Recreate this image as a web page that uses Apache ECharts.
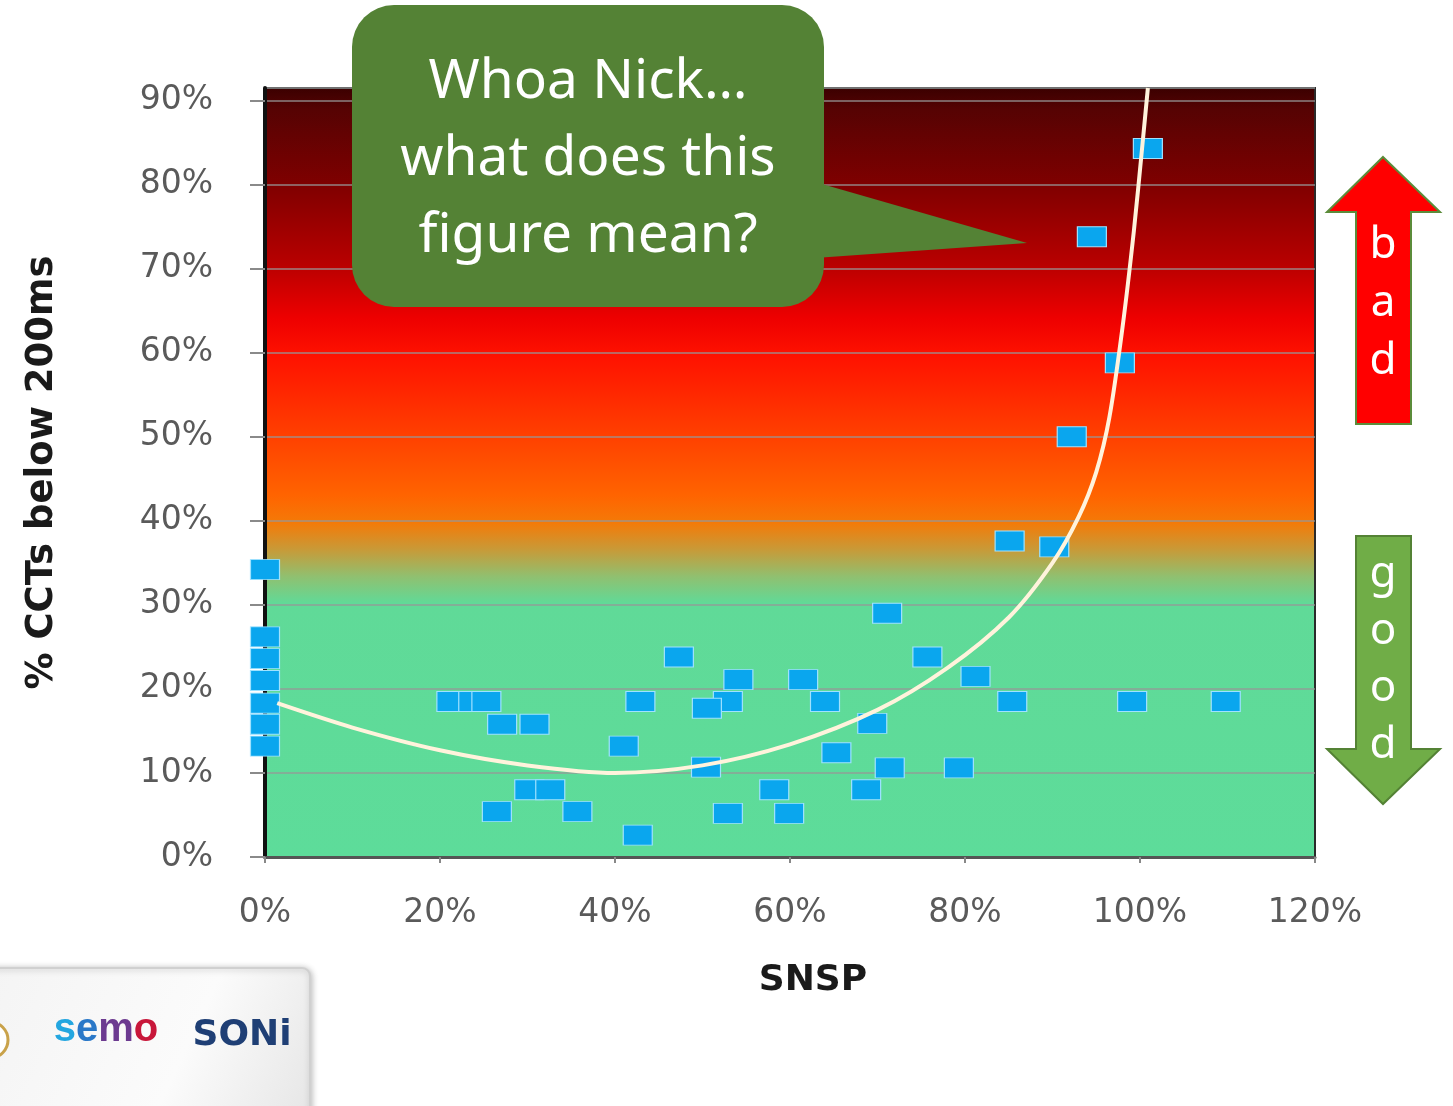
<!DOCTYPE html>
<html>
<head>
<meta charset="utf-8">
<script src="https://cdn.jsdelivr.net/npm/echarts@6/dist/echarts.min.js"></script>
<style>
  html, body { margin: 0; padding: 0; background: #fff; }
  #chart { width: 1453px; height: 1106px; }
</style>
</head>
<body>
<div id="chart"></div>
<script>
// SNSP (%) vs share of CCTs below 200ms (%)
const snsp = [0, 0, 0, 0, 0, 0, 0, 21.3, 23.8, 25.3, 27.1, 30.8, 30.2, 32.6, 26.5, 35.7,
  41.0, 42.6, 42.9, 47.3, 52.9, 50.5, 50.4, 54.1, 52.9, 58.2, 59.9, 61.5, 64.0, 65.3,
  68.7, 69.4, 71.1, 71.4, 75.7, 79.3, 81.2, 85.1, 85.4, 90.2, 92.2, 94.5, 97.7, 99.1,
  100.9, 109.8];
const cctPct = [34.2, 26.2, 23.6, 21.0, 18.3, 15.8, 13.2, 18.5, 18.5, 18.5, 15.8, 15.8, 8.0, 8.0, 5.4, 5.4,
  13.2, 2.6, 18.5, 23.8, 18.5, 17.7, 10.7, 21.1, 5.2, 8.0, 5.2, 21.1, 18.5, 12.4,
  8.0, 15.9, 29.0, 10.6, 23.8, 10.6, 21.5, 37.6, 18.5, 36.9, 50.0, 73.8, 58.8, 18.5,
  84.3, 18.5];

// trend curve
const fitSnsp = [1.4, 10, 20, 30, 40, 50, 60, 70, 78, 85, 90, 93, 95, 96.5, 98, 99.3, 100.3, 100.9];
const fitPct = [18.3, 15.4, 12.7, 10.9, 10.0, 10.9, 13.4, 17.5, 22.5, 28.5, 35, 40.5, 45.8, 52.3, 63, 74.5, 85, 91.5];

const xMax = 120;
const yMax = 91.5;
const xTitle = 'SNSP';
const yTitle = '% CCTs below 200ms';
const calloutLines = ['Whoa Nick\u2026', 'what does this', 'figure mean?'];
const badLetters = ['b', 'a', 'd'];
const goodLetters = ['g', 'o', 'o', 'd'];

const chart = echarts.init(document.getElementById('chart'));

const tickFont = 'DejaVu Sans, sans-serif';
const narrowFont = "'Liberation Sans Narrow', 'DejaVu Sans', sans-serif";
const calloutFont = "'Noto Sans', 'Open Sans', sans-serif";

const bg = new echarts.graphic.LinearGradient(0, 0, 0, 1, [
  { offset: 0, color: '#3a0000' },
  { offset: 0.03, color: '#560303' },
  { offset: 0.125, color: '#7e0000' },
  { offset: 0.23, color: '#b80000' },
  { offset: 0.3, color: '#ee0000' },
  { offset: 0.35, color: '#ff1200' },
  { offset: 0.45, color: '#ff3f00' },
  { offset: 0.53, color: '#ff6400' },
  { offset: 0.565, color: '#f47a08' },
  { offset: 0.6, color: '#c89a38' },
  { offset: 0.635, color: '#90c070' },
  { offset: 0.67, color: '#60da98' },
  { offset: 1, color: '#5ddc9a' }
]);

const points = snsp.map((x, i) => [x, cctPct[i]]);
const fit = fitSnsp.map((x, i) => [x, fitPct[i]]);

const graphics = [];

// callout bubble
graphics.push({
  type: 'polygon', z: 100,
  shape: { points: [[815, 182], [1027, 243], [815, 258]] },
  style: { fill: '#548235' }
});
graphics.push({
  type: 'rect', z: 100,
  shape: { x: 352, y: 5, width: 472, height: 302, r: 42 },
  style: { fill: '#548235' }
});
const lineY = [82, 159, 236];
calloutLines.forEach((t, i) => {
  graphics.push({
    type: 'text', z: 101, x: 588, y: lineY[i],
    style: { text: t, fill: '#fff', font: '55px ' + calloutFont, textAlign: 'center', textVerticalAlign: 'middle' }
  });
});

// bad / good arrows
graphics.push({
  type: 'polygon', z: 100,
  shape: { points: [[1383, 157], [1440, 212], [1411, 212], [1411, 424], [1356, 424], [1356, 212], [1327, 212]] },
  style: { fill: '#ff0000', stroke: '#5b8c3a', lineWidth: 2 }
});
graphics.push({
  type: 'polygon', z: 100,
  shape: { points: [[1356, 536], [1411, 536], [1411, 749], [1440, 749], [1383, 804], [1327, 749], [1356, 749]] },
  style: { fill: '#70ad47', stroke: '#548235', lineWidth: 2 }
});
badLetters.forEach((t, i) => {
  graphics.push({
    type: 'text', z: 101, x: 1383, y: 245 + i * 58,
    style: { text: t, fill: '#fff', font: '44px ' + calloutFont, textAlign: 'center', textVerticalAlign: 'middle' }
  });
});
goodLetters.forEach((t, i) => {
  graphics.push({
    type: 'text', z: 101, x: 1383, y: 574 + i * 57,
    style: { text: t, fill: '#fff', font: '44px ' + calloutFont, textAlign: 'center', textVerticalAlign: 'middle' }
  });
});

// logo strip bottom-left
graphics.push({
  type: 'rect', z: 90,
  shape: { x: -12, y: 968, width: 322, height: 150, r: 8 },
  style: {
    fill: new echarts.graphic.LinearGradient(0, 0, 1, 1, [
      { offset: 0, color: '#f4f4f4' }, { offset: 0.6, color: '#fbfbfb' }, { offset: 1, color: '#e6e6e6' }
    ]),
    stroke: '#d0d0d0', lineWidth: 2,
    shadowBlur: 6, shadowColor: 'rgba(0,0,0,0.25)', shadowOffsetX: 1, shadowOffsetY: 1
  }
});
graphics.push({
  type: 'circle', z: 91,
  shape: { cx: -10, cy: 1040, r: 18 },
  style: { fill: '#fff', stroke: '#c9a24a', lineWidth: 3 }
});
graphics.push({
  type: 'text', z: 91, x: 106, y: 1030,
  style: {
    text: '{a|s}{b|e}{c|m}{d|o}', textAlign: 'center', textVerticalAlign: 'middle',
    rich: {
      a: { fill: '#23a6e0', font: 'bold 40px Arial, sans-serif' },
      b: { fill: '#2a78c8', font: 'bold 40px Arial, sans-serif' },
      c: { fill: '#6c3a90', font: 'bold 40px Arial, sans-serif' },
      d: { fill: '#c8173a', font: 'bold 40px Arial, sans-serif' }
    }
  }
});
graphics.push({
  type: 'text', z: 91, x: 242, y: 1036,
  style: { text: 'SONi', fill: '#1f3f75', font: 'bold 36px ' + narrowFont, textAlign: 'center', textVerticalAlign: 'middle' }
});

const option = {
  animation: false,
  backgroundColor: '#fff',
  grid: {
    left: 265, right: 138, top: 88, bottom: 249,
    show: true,
    backgroundColor: bg,
    borderColor: '#2a2a2a',
    borderWidth: 2
  },
  xAxis: {
    type: 'value', min: 0, max: xMax, interval: 20,
    name: xTitle, nameLocation: 'middle', nameGap: 106,
    nameTextStyle: { fontFamily: narrowFont, fontWeight: 'bold', fontSize: 36, color: '#1a1a1a', padding: [0, 0, 0, 46] },
    axisLine: { show: true, lineStyle: { color: '#555', width: 3 } },
    axisTick: { show: true, length: 6, lineStyle: { color: '#888', width: 2 } },
    axisLabel: { formatter: '{value}%', margin: 40, fontFamily: tickFont, fontSize: 33, color: '#5a5a5a' },
    splitLine: { show: false }
  },
  yAxis: {
    type: 'value', min: 0, max: yMax, interval: 10,
    name: yTitle, nameLocation: 'middle', nameGap: 204, nameRotate: 90,
    nameTextStyle: { fontFamily: narrowFont, fontWeight: 'bold', fontSize: 37, color: '#1a1a1a' },
    axisLine: { show: true, lineStyle: { color: '#111', width: 4 } },
    axisTick: { show: true, length: 15, lineStyle: { color: '#8a8a8a', width: 2 } },
    axisLabel: { formatter: '{value}%', margin: 52, showMaxLabel: false, fontFamily: tickFont, fontSize: 33, color: '#5a5a5a' },
    splitLine: { show: true, lineStyle: { color: 'rgba(150,150,150,0.65)', width: 2 } }
  },
  series: [
    {
      type: 'scatter',
      data: points,
      symbol: 'rect',
      symbolSize: [29, 20],
      clip: false,
      z: 3,
      itemStyle: { color: '#0aa6ee', borderColor: '#9fe2ff', borderWidth: 1, opacity: 1 }
    },
    {
      type: 'line',
      data: fit,
      smooth: 0.3,
      showSymbol: false,
      clip: true,
      z: 4,
      lineStyle: { color: '#fff3dc', width: 4 }
    }
  ],
  graphic: graphics
};

chart.setOption(option);
window.addEventListener('resize', function () { chart.resize(); });
</script>
</body>
</html>
